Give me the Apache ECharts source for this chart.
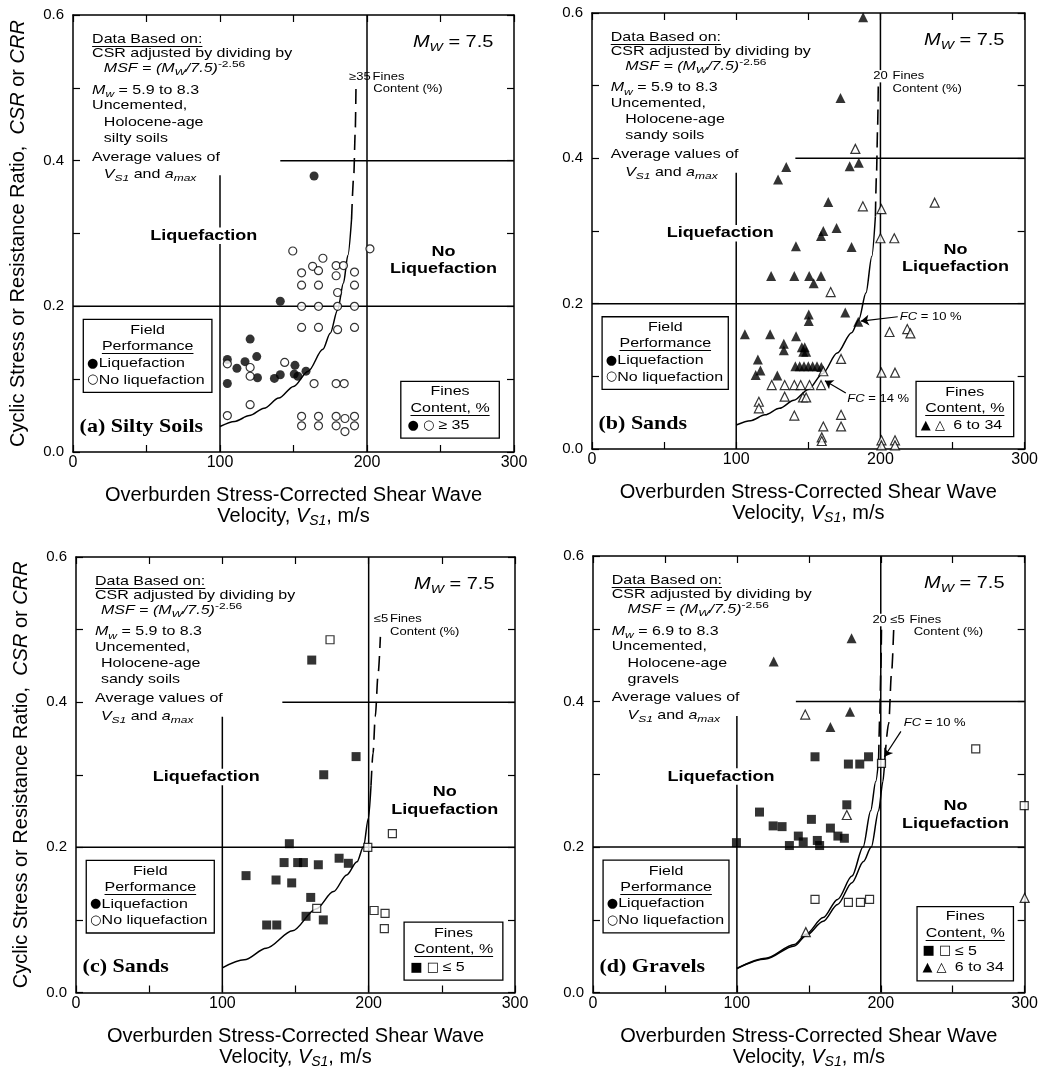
<!DOCTYPE html>
<html><head><meta charset="utf-8">
<script src="https://cdn.jsdelivr.net/npm/echarts@6/dist/echarts.min.js"></script>
<style>html,body{margin:0;padding:0;background:#fff}#c{width:1041px;height:1070px}</style>
</head><body><div id="c"></div>
<script>
// ---------------- DATA ----------------
const xTickLabels = [0, 100, 200, 300];
const yTickLabels = [0.0, 0.2, 0.4, 0.6];

// chart partition lines (same on every panel)
const boundV100 = [[100, 0], [100, 0.38]];
const boundV200 = [[200, 0], [200, 0.6]];
const boundH02 = [[0, 0.2], [300, 0.2]];
const boundH04 = [[141, 0.4], [300, 0.4]];

// (a) Silty soils, FC >= 35 %
const aLiquefaction = [[164,0.379],[141,0.207],[120.5,0.155],[125,0.131],[105,0.127],[111.5,0.115],[117,0.124],[125.5,0.102],[105,0.094],[137,0.101],[141,0.106],[151,0.119],[150.5,0.107],[153,0.104],[158.5,0.111]];
const aNoLiquefaction = [[105,0.121],[105,0.05],[120.5,0.116],[120.5,0.104],[120.5,0.065],[144,0.123],[149.5,0.276],[164,0.094],[155.5,0.246],[155.5,0.229],[155.5,0.2],[155.5,0.171],[163,0.255],[167,0.249],[170,0.266],[167,0.229],[167,0.2],[167,0.171],[179,0.256],[184,0.256],[179,0.242],[191.5,0.247],[191.5,0.229],[180,0.219],[180,0.2],[191.5,0.2],[180,0.168],[191.5,0.171],[179,0.094],[184.5,0.094],[202,0.279],[155.5,0.049],[155.5,0.036],[167,0.049],[167,0.036],[179,0.049],[179,0.036],[185,0.046],[185,0.028],[191.5,0.049],[191.5,0.036]];
const aCurve = [[100,0.035],[110,0.042],[120,0.05],[130,0.06],[140,0.074],[150,0.09],[160,0.111],[170,0.141],[175,0.163],[180,0.195],[184,0.232],[187,0.27],[189.5,0.32]];
const aCurveDashed = [[189.5,0.32],[191,0.38],[192,0.44],[192.5,0.5]];

// (b) Sands, FC 6 to 34 %
const bLiquefaction = [[188,0.594],[172.3,0.483],[134.7,0.388],[129,0.371],[178.7,0.389],[185,0.394],[163.8,0.34],[169.6,0.304],[160.4,0.3],[158.8,0.293],[141.4,0.279],[180,0.278],[124.2,0.238],[140.3,0.238],[150.6,0.238],[158.8,0.238],[153.7,0.228],[175.6,0.188],[184.6,0.175],[150.3,0.185],[150.3,0.176],[106,0.158],[123.5,0.158],[141.5,0.155],[133,0.145],[133,0.136],[145.5,0.14],[147.5,0.14],[146.5,0.134],[148.5,0.134],[115,0.123],[116.8,0.108],[113.5,0.102],[128.5,0.101],[141,0.114],[144,0.114],[147,0.114],[150,0.114],[153,0.114],[156,0.114],[159,0.113]];
const bNoLiquefaction = [[182.6,0.413],[187.8,0.334],[200.7,0.33],[237.6,0.339],[200,0.29],[209.6,0.29],[165.5,0.216],[206.3,0.161],[218.6,0.165],[220.8,0.159],[172.7,0.124],[200.7,0.105],[210.1,0.105],[160.4,0.107],[124.6,0.088],[133.6,0.088],[140.3,0.088],[144.7,0.088],[150.8,0.088],[158.8,0.088],[133.6,0.072],[146.3,0.071],[148.5,0.071],[115.7,0.065],[115.7,0.056],[140.3,0.046],[172.7,0.047],[172.7,0.031],[160.4,0.031],[159.3,0.016],[159.3,0.011],[200.7,0.012],[210.1,0.012],[200.7,0.005],[210.1,0.005]];
const bCurve = [[100,0.033],[110,0.039],[120,0.047],[130,0.056],[140,0.067],[150,0.082],[160,0.104],[170,0.132],[180,0.16],[185,0.178],[190,0.215],[194,0.265],[196.5,0.32]];
const bCurveDashed = [[196.5,0.32],[197.3,0.38],[198,0.44],[198.5,0.5]];
const bArrowFC10 = [[212,0.182],[186.5,0.176]];
const bArrowFC14 = [[176,0.077],[161.5,0.094]];

// (c) Sands, FC <= 5 %
const cLiquefaction = [[145.8,0.205],[116.2,0.161],[136.7,0.155],[142.2,0.179],[147.4,0.151],[151.5,0.179],[155.4,0.179],[165.6,0.176],[179.8,0.185],[186.1,0.178],[160.4,0.131],[157.2,0.105],[169,0.1],[130.3,0.093],[137.2,0.093],[169.3,0.3],[161.1,0.458],[191.4,0.325]];
const cNoLiquefaction = [[173.6,0.486],[199.4,0.2],[216.2,0.219],[164.5,0.116],[203.7,0.113],[211.2,0.109],[210.7,0.088]];
const cCurve = [[100,0.034],[115,0.045],[130,0.061],[148,0.085],[164,0.115],[176,0.139],[185,0.162],[192,0.18],[196.5,0.201],[199.8,0.24],[201.6,0.285]];
const cCurveDashed = [[201.6,0.285],[203,0.33],[204.5,0.38],[206.5,0.44],[208,0.49]];

// (d) Gravels
const dLiqSquares = [[154.3,0.324],[177.5,0.314],[185.4,0.314],[191.5,0.324],[99.7,0.206],[115.7,0.248],[125.2,0.229],[131.4,0.228],[136.5,0.202],[142.7,0.215],[146.1,0.207],[151.8,0.238],[155.9,0.209],[157.5,0.202],[165,0.226],[170.2,0.215],[174.7,0.212],[176.4,0.258]];
const dNoLiqSquares = [[200.5,0.315],[154.3,0.128],[177.5,0.124],[185.9,0.124],[192.2,0.128],[299.7,0.257],[266,0.335]];
const dLiqTriangles = [[179.7,0.487],[125.6,0.455],[178.6,0.386],[165,0.365]];
const dNoLiqTriangles = [[147.5,0.382],[176.4,0.244],[147.9,0.083],[300,0.13]];
const dCurve20 = [[100,0.033],[120,0.047],[140,0.066],[148,0.08],[160,0.103],[170,0.128],[180,0.16],[187.7,0.2],[193,0.25],[196.5,0.29],[198.5,0.32]];
const dCurve5 = [[100,0.033],[120,0.046],[140,0.064],[148,0.078],[160,0.098],[170,0.121],[180,0.151],[188,0.18],[193.4,0.2],[198.5,0.25],[201.5,0.29],[202.8,0.32]];
const dCurve20Dashed = [[198.5,0.32],[199.3,0.38],[200,0.44],[200.5,0.5]];
const dCurve5Dashed = [[202.8,0.32],[205.5,0.37],[207.5,0.44],[209,0.5]];
const dArrowFC10 = [[214,0.359],[202.5,0.324]];

// text content
const panelLabels = ['(a) Silty Soils', '(b) Sands', '(c) Sands', '(d) Gravels'];
const soilText = ['silty soils', 'sandy soils', 'sandy soils', 'gravels'];
const mwRange = ['5.9 to 8.3', '5.9 to 8.3', '5.9 to 8.3', '6.9 to 8.3'];
const curvePrefix = ['\u226535', '20', '\u22645', '20 \u22645'];

// ---------------- LAYOUT / STYLE ----------------
const FONT = '"Liberation Sans", Arial, Helvetica, sans-serif';
const SERIF = '"Liberation Serif", "Times New Roman", serif';
const SYM = '"DejaVu Sans", sans-serif';
const SY = 0.82; // vertical squash of annotation text
const grids = [
  {left: 73, top: 15, width: 441, height: 437},
  {left: 592, top: 13, width: 440, height: 436},
  {left: 76, top: 557, width: 439, height: 438},
  {left: 593, top: 556, width: 440, height: 437}
];
const AL = {show: true, onZero: false, lineStyle: {color: '#000', width: 1.5}};
const AT = {show: true, inside: true, length: 7, lineStyle: {color: '#000', width: 1.2}};
const axisRich = {
  n: {fontFamily: FONT, fontSize: 20, color: '#000', lineHeight: 21},
  i: {fontFamily: FONT, fontSize: 20, color: '#000', fontStyle: 'italic', lineHeight: 21},
  s: {fontFamily: FONT, fontSize: 14, color: '#000', fontStyle: 'italic', lineHeight: 21, padding: [10, 0, 0, 0]}
};

const xAxes = [], yAxes = [];
grids.forEach((gr, g) => {
  xAxes.push({gridIndex: g, type: 'value', min: 0, max: 300, interval: 50, position: 'bottom',
    axisLine: AL, axisTick: AT, splitLine: {show: false},
    axisLabel: {margin: 3, color: '#000', fontFamily: FONT, fontSize: 16,
      formatter: v => xTickLabels.indexOf(v) >= 0 ? String(v) : ''},
    name: '{n|Overburden Stress-Corrected Shear Wave}\n{n|Velocity, }{i|V}{s|S1}{n|, m/s}',
    nameLocation: 'middle', nameGap: 33,
    nameTextStyle: {fontFamily: FONT, fontSize: 20, color: '#000', rich: axisRich}});
  xAxes.push({gridIndex: g, type: 'value', min: 0, max: 300, interval: 50, position: 'top',
    axisLine: AL, axisTick: AT, splitLine: {show: false}, axisLabel: {show: false}});
  const yLeft = {gridIndex: g, type: 'value', min: 0, max: 0.6, interval: 0.1, position: 'left',
    axisLine: AL, axisTick: AT, splitLine: {show: false},
    axisLabel: {margin: 9, color: '#000', fontFamily: FONT, fontSize: 15,
      formatter: v => { const r = Math.round(v * 10) / 10; return yTickLabels.some(t => Math.abs(t - r) < 1e-9) ? r.toFixed(1) : ''; }}};
  if (g === 0 || g === 2) {
    yLeft.name = '{n|Cyclic Stress or Resistance Ratio,  }{i|CSR}{n| or }{i|CRR}';
    yLeft.nameLocation = 'middle';
    yLeft.nameGap = 44;
    yLeft.nameTextStyle = {fontFamily: FONT, fontSize: 20, color: '#000', rich: axisRich};
  }
  yAxes.push(yLeft);
  yAxes.push({gridIndex: g, type: 'value', min: 0, max: 0.6, interval: 0.1, position: 'right',
    axisLine: AL, axisTick: AT, splitLine: {show: false}, axisLabel: {show: false}});
});

const series = [];
function lineS(g, data, dashed, smooth) {
  series.push({type: 'line', xAxisIndex: 2 * g, yAxisIndex: 2 * g, data: data, symbol: 'none', silent: true,
    smooth: smooth ? 0.3 : false, smoothMonotone: smooth ? 'x' : undefined, z: 3,
    lineStyle: {color: '#000', width: dashed ? 1.6 : 1.5, type: dashed ? [15, 8] : 'solid'}});
}
function scat(g, data, symbol, filled, size) {
  series.push({type: 'scatter', xAxisIndex: 2 * g, yAxisIndex: 2 * g, data: data, symbol: symbol,
    symbolSize: size, silent: true, z: 5,
    itemStyle: filled ? {color: '#000'} : {color: '#fff', borderColor: '#000', borderWidth: 1.2}});
}
function arrow(g, a) {
  series.push({type: 'line', xAxisIndex: 2 * g, yAxisIndex: 2 * g, data: [], silent: true,
    markLine: {silent: true, symbol: ['none', 'arrow'], symbolSize: 8, animation: false,
      label: {show: false}, lineStyle: {color: '#000', width: 1.2, type: 'solid'},
      data: [[{coord: a[0]}, {coord: a[1]}]]}});
}
for (let g = 0; g < 4; g++) {
  [boundV100, boundV200, boundH02, boundH04].forEach(b => lineS(g, b, false, false));
}
lineS(0, aCurve, false, true); lineS(0, aCurveDashed, true, true);
scat(0, aLiquefaction, 'circle', true, 9); scat(0, aNoLiquefaction, 'circle', false, 8);

lineS(1, bCurve, false, true); lineS(1, bCurveDashed, true, true);
scat(1, bLiquefaction, 'triangle', true, 10); scat(1, bNoLiquefaction, 'triangle', false, 9);
arrow(1, bArrowFC10); arrow(1, bArrowFC14);

lineS(2, cCurve, false, true); lineS(2, cCurveDashed, true, true);
scat(2, cLiquefaction, 'rect', true, 9); scat(2, cNoLiquefaction, 'rect', false, 8);

lineS(3, dCurve20, false, true); lineS(3, dCurve5, false, true);
lineS(3, dCurve20Dashed, true, true); lineS(3, dCurve5Dashed, true, true);
scat(3, dLiqSquares, 'rect', true, 9); scat(3, dNoLiqSquares, 'rect', false, 8);
scat(3, dLiqTriangles, 'triangle', true, 10); scat(3, dNoLiqTriangles, 'triangle', false, 9);
arrow(3, dArrowFC10);

const chart = echarts.init(document.getElementById('c'), null, {renderer: 'canvas', width: 1041, height: 1070});
chart.setOption({animation: false, backgroundColor: '#fff', grid: grids, xAxis: xAxes, yAxis: yAxes, series: series});

// ---------------- ANNOTATIONS ----------------
const P = (g, x, y) => chart.convertToPixel({xAxisIndex: 2 * g, yAxisIndex: 2 * g}, [x, y]);
const mctx = document.createElement('canvas').getContext('2d');
const els = [];
function zr(fs, weight) {
  const b = {fontFamily: FONT, fontSize: fs, fontWeight: weight || 'normal', fill: '#000', verticalAlign: 'middle'};
  return {
    n: b,
    i: Object.assign({}, b, {fontStyle: 'italic'}),
    sub: Object.assign({}, b, {fontStyle: 'italic', fontSize: Math.round(fs * 0.72), padding: [Math.round(fs * 0.6), 0, 0, 0]}),
    sup: Object.assign({}, b, {fontSize: Math.round(fs * 0.72), padding: [0, 0, Math.round(fs * 0.6), 0]})
  };
}
function T(g, vx, vy, text, o) {
  o = o || {};
  const p = P(g, vx, vy);
  const fs = o.fs || 16;
  const fam = o.family || FONT;
  const st = {text: text, fill: '#000', fontFamily: fam, fontSize: fs, fontWeight: o.weight || 'normal',
    fontStyle: o.italic ? 'italic' : 'normal', align: o.align || 'left', verticalAlign: 'middle', legacy: false};
  if (o.rich) st.rich = zr(fs, o.weight);
  if (o.bg) { st.backgroundColor = '#fff'; st.padding = [1, 3]; }
  els.push({type: 'text', x: p[0], y: p[1], scaleY: o.noScale ? 1 : SY, z: 102, silent: true, style: st});
  if (o.underline) {
    mctx.font = (o.italic ? 'italic ' : '') + (o.weight || 'normal') + ' ' + fs + 'px ' + fam;
    const w = mctx.measureText(text).width;
    let x1 = p[0];
    if (st.align === 'center') x1 -= w / 2; else if (st.align === 'right') x1 -= w;
    const uy = Math.round(p[1] + fs * 0.5 * SY) + 0.5;
    els.push({type: 'line', z: 102, silent: true, shape: {x1: x1, y1: uy, x2: x1 + w, y2: uy}, style: {stroke: '#000', lineWidth: 1}});
  }
}
function box(g, x1, x2, y1, y2) {
  const a = P(g, x1, y1), b = P(g, x2, y2);
  els.push({type: 'rect', z: 101, silent: true, shape: {x: a[0], y: a[1], width: b[0] - a[0], height: b[1] - a[1]},
    style: {fill: '#fff', stroke: '#000', lineWidth: 1.3}});
}
const symOpt = {fs: 13, family: SYM, noScale: true};

const blockY = [0.566, 0.547, 0.527, 0.497, 0.476, 0.453, 0.431, 0.405, 0.381];
const indent = [21, 23, 17, 24];
const noLiqY = [0.263, 0.262, 0.264, 0.244];
const finesX = [203.8, 208.4, 214.6, 220];
const contentX = [204.3, 208.4, 214.6, 222.9];
const finesY = [0.515, 0.513, 0.514, 0.512];
for (let g = 0; g < 4; g++) {
  const L = 13, I = indent[g];
  T(g, L, blockY[0], 'Data Based on:', {underline: true});
  T(g, L, blockY[1], 'CSR adjusted by dividing by');
  T(g, I, blockY[2], '{i|MSF = (M}{sub|W}{i|/7.5)}{sup|-2.56}', {rich: true});
  T(g, L, blockY[3], '{i|M}{sub|w}{n| = ' + mwRange[g] + '}', {rich: true});
  T(g, L, blockY[4], 'Uncemented,');
  T(g, I, blockY[5], 'Holocene-age');
  T(g, I, blockY[6], soilText[g]);
  T(g, L, blockY[7], 'Average values of');
  T(g, I, blockY[8], '{i|V}{sub|S1}{n| and }{i|a}{sub|max}', {rich: true});

  T(g, 286, 0.562, '{i|M}{sub|W}{n| = 7.5}', {rich: true, fs: 20, align: 'right'});
  T(g, 89, 0.297, 'Liquefaction', {weight: 'bold', fs: 18, align: 'center', bg: true});
  T(g, 252, noLiqY[g] + 0.012, 'No', {weight: 'bold', fs: 18, align: 'center'});
  T(g, 252, noLiqY[g] - 0.012, 'Liquefaction', {weight: 'bold', fs: 18, align: 'center'});

  T(g, finesX[g] - 1.2, finesY[g], curvePrefix[g], {fs: 13, align: 'right', bg: (g === 1 || g === 3)});
  T(g, finesX[g], finesY[g], 'Fines', {fs: 13});
  T(g, contentX[g], finesY[g] - 0.017, 'Content (%)', {fs: 13});

  T(g, 4.5, 0.034, panelLabels[g], {family: SERIF, weight: 'bold', fs: 22});

  // Field performance box
  box(g, 7, 94.5, 0.182, 0.082);
  T(g, 50.8, 0.167, 'Field', {align: 'center'});
  T(g, 50.8, 0.145, 'Performance', {align: 'center', underline: true});
  T(g, 9.5, 0.122, '\u25CF', symOpt);
  T(g, 17.5, 0.122, 'Liquefaction');
  T(g, 9.5, 0.099, '\u25CB', symOpt);
  T(g, 17.5, 0.099, 'No liquefaction');
}
// Fines content boxes
box(0, 223, 290, 0.097, 0.019);
T(0, 256.5, 0.083, 'Fines', {align: 'center'});
T(0, 256.5, 0.060, 'Content, %', {align: 'center', underline: true});
T(0, 227.5, 0.036, '\u25CF \u25CB', symOpt);
T(0, 248.5, 0.036, '\u2265 35');

box(1, 224.7, 292.4, 0.093, 0.017);
T(1, 258.5, 0.0775, 'Fines', {align: 'center'});
T(1, 258.5, 0.056, 'Content, %', {align: 'center', underline: true});
T(1, 228, 0.032, '\u25B2 \u25B3', symOpt);
T(1, 250.5, 0.032, '6 to 34');

box(2, 224.2, 291.7, 0.097, 0.017);
T(2, 258, 0.082, 'Fines', {align: 'center'});
T(2, 258, 0.059, 'Content, %', {align: 'center', underline: true});
T(2, 228.5, 0.034, '\u25A0 \u25A1', symOpt);
T(2, 250.5, 0.034, '\u2264 5');

box(3, 225.2, 292.2, 0.118, 0.016);
T(3, 258.7, 0.105, 'Fines', {align: 'center'});
T(3, 258.7, 0.081, 'Content, %', {align: 'center', underline: true});
T(3, 229, 0.057, '\u25A0 \u25A1', symOpt);
T(3, 251.5, 0.057, '\u2264 5');
T(3, 229, 0.034, '\u25B2 \u25B3', symOpt);
T(3, 251.5, 0.034, '6 to 34');

// FC annotations
T(1, 213.4, 0.182, '{i|FC}{n| = 10 %}', {rich: true, fs: 13});
T(1, 177, 0.069, '{i|FC}{n| = 14 %}', {rich: true, fs: 13});
T(3, 216, 0.37, '{i|FC}{n| = 10 %}', {rich: true, fs: 13});

chart.setOption({graphic: {elements: els}});
</script></body></html>
